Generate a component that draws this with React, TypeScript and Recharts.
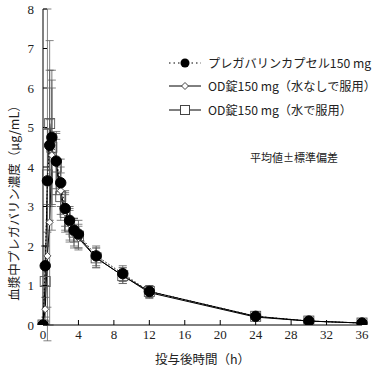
import React from "react";
import {
  LineChart,
  Line,
  XAxis,
  YAxis,
  ErrorBar,
} from "recharts";

// sampling times (h)
const times = [0, 0.25, 0.5, 0.75, 1, 1.5, 2, 2.5, 3, 3.5, 4, 6, 9, 12, 24, 30, 36];

// プレガバリンカプセル150 mg
const capsuleMean = [0, 1.5, 3.65, 4.55, 4.75, 4.15, 3.6, 2.95, 2.65, 2.4, 2.3, 1.75, 1.3, 0.85, 0.22, 0.1, 0.05];
const capsuleSd = [0, 0.5, 1.3, 1.9, 1.7, 0.7, 0.6, 0.45, 0.35, 0.3, 0.35, 0.25, 0.2, 0.15, 0.06, 0.04, 0.02];

// OD錠150 mg（水なしで服用）
const odDryMean = [0, 0.4, 1.75, 2.6, 4.3, 4.1, 3.4, 2.85, 2.55, 2.3, 2.2, 1.7, 1.25, 0.82, 0.2, 0.1, 0.05];
const odDrySd = [0, 0.3, 1.3, 2.6, 1.9, 0.8, 0.6, 0.45, 0.4, 0.35, 0.3, 0.25, 0.2, 0.15, 0.06, 0.04, 0.02];

// OD錠150 mg（水で服用）
const odWaterMean = [0, 1.1, 3.8, 5.1, 4.5, 4.0, 3.25, 2.85, 2.5, 2.35, 2.25, 1.7, 1.25, 0.85, 0.22, 0.1, 0.05];
const odWaterSd = [0, 0.9, 4.2, 2.1, 1.5, 0.7, 0.6, 0.5, 0.4, 0.35, 0.3, 0.25, 0.2, 0.15, 0.06, 0.04, 0.02];

const xTicks = [0, 4, 8, 12, 16, 20, 24, 28, 32, 36];
const yTicks = [0, 1, 2, 3, 4, 5, 6, 7, 8];

const legendItems = [
  { key: "capsule", label: "プレガバリンカプセル150 mg" },
  { key: "odDry", label: "OD錠150 mg（水なしで服用）" },
  { key: "odWater", label: "OD錠150 mg（水で服用）" },
];

const data = times.map((t, i) => ({
  t,
  capsule: capsuleMean[i],
  capsuleSd: capsuleSd[i],
  odDry: odDryMean[i],
  odDrySd: odDrySd[i],
  odWater: odWaterMean[i],
  odWaterSd: odWaterSd[i],
}));

const serif = "'Liberation Serif', 'DejaVu Serif', serif";
const gothic = "'Noto Sans CJK JP', 'Noto Sans', sans-serif";

const CircleDot = (props: any) => (
  <circle key={`c${props.index}`} cx={props.cx} cy={props.cy} r={5.2} fill="#000" stroke="#000" />
);
const DiamondDot = (props: any) => {
  const { cx, cy, index } = props;
  const s = 3.5;
  return (
    <polygon
      key={`d${index}`}
      points={`${cx},${cy - s} ${cx + s},${cy} ${cx},${cy + s} ${cx - s},${cy}`}
      fill="#fff"
      stroke="#444"
      strokeWidth={0.9}
    />
  );
};
const SquareDot = (props: any) => (
  <rect
    key={`s${props.index}`}
    x={props.cx - 5}
    y={props.cy - 5}
    width={10}
    height={10}
    fill="none"
    stroke="#555"
    strokeWidth={0.9}
  />
);

// serif tick labels
const XTick = (props: any) => (
  <text
    x={props.x}
    y={props.y}
    dy="0.71em"
    textAnchor="middle"
    fontSize={13}
    fontFamily={serif}
    fill="#222"
  >
    {props.payload.value}
  </text>
);
const YTick = (props: any) => (
  <text
    x={props.x}
    y={props.y}
    dy="0.35em"
    textAnchor="end"
    fontSize={13}
    fontFamily={serif}
    fill="#222"
  >
    {props.payload.value}
  </text>
);

function LegendIcon({ kind }: { kind: string }) {
  return (
    <svg width={34} height={12} style={{ marginRight: 6, flex: "none" }}>
      {kind === "capsule" ? (
        <>
          <line x1={1} y1={6} x2={33} y2={6} stroke="#000" strokeDasharray="1.5 3" />
          <circle cx={17} cy={6} r={4.5} fill="#000" />
        </>
      ) : kind === "odDry" ? (
        <>
          <line x1={1} y1={6} x2={33} y2={6} stroke="#000" />
          <polygon points="17,2.5 20.5,6 17,9.5 13.5,6" fill="#fff" stroke="#444" />
        </>
      ) : (
        <>
          <line x1={1} y1={6} x2={33} y2={6} stroke="#000" />
          <rect x={12.5} y={1.5} width={9} height={9} fill="#fff" stroke="#444" />
        </>
      )}
    </svg>
  );
}

const YLabel = () => (
  <text
    transform="translate(13,200) rotate(-90)"
    textAnchor="middle"
    dominantBaseline="central"
    fontSize={12.5}
    fontFamily={gothic}
    fill="#222"
  >
    血漿中プレガバリン濃度（μg/mL）
  </text>
);

export default function App() {
  return (
    <div
      style={{
        position: "absolute",
        left: 0,
        top: 0,
        width: 372,
        height: 372,
        background: "#fff",
        overflow: "hidden",
      }}
    >
      <LineChart
        width={372}
        height={372}
        data={data}
        margin={{ top: 9, right: 10, left: 0, bottom: 17 }}
      >
        <XAxis
          dataKey="t"
          type="number"
          domain={[0, 36]}
          ticks={xTicks}
          interval={0}
          height={30}
          stroke="#000"
          tickSize={-5}
          tickMargin={10}
          tick={XTick}
          label={{
            value: "投与後時間（h）",
            position: "insideBottom",
            offset: -9,
            fontSize: 12.5,
            fontFamily: gothic,
            fill: "#222",
          }}
        />
        <YAxis
          type="number"
          domain={[0, 8]}
          ticks={yTicks}
          interval={0}
          width={43}
          stroke="#000"
          tickSize={-4}
          tickMargin={13}
          allowDataOverflow
          tick={YTick}
          label={{ content: YLabel }}
        />
        <Line
          dataKey="odWater"
          stroke="#000"
          strokeWidth={1}
          dot={SquareDot}
          activeDot={false}
          isAnimationActive={false}
        >
          <ErrorBar dataKey="odWaterSd" direction="y" width={4} stroke="#666" strokeWidth={0.8} />
        </Line>
        <Line
          dataKey="odDry"
          stroke="#000"
          strokeWidth={1}
          dot={DiamondDot}
          activeDot={false}
          isAnimationActive={false}
        >
          <ErrorBar dataKey="odDrySd" direction="y" width={4} stroke="#666" strokeWidth={0.8} />
        </Line>
        <Line
          dataKey="capsule"
          stroke="#000"
          strokeWidth={1}
          strokeDasharray="1.5 2"
          dot={CircleDot}
          activeDot={false}
          isAnimationActive={false}
        >
          <ErrorBar dataKey="capsuleSd" direction="y" width={4} stroke="#555" strokeWidth={0.8} />
        </Line>
      </LineChart>
      <div
        style={{
          position: "absolute",
          left: 168,
          top: 51,
          fontFamily: gothic,
          fontSize: 12.2,
          color: "#222",
        }}
      >
        {legendItems.map((it) => (
          <div key={it.key} style={{ display: "flex", alignItems: "center", height: 23.5, whiteSpace: "nowrap" }}>
            <LegendIcon kind={it.key} />
            <span>{it.label}</span>
          </div>
        ))}
      </div>
      <div
        style={{
          position: "absolute",
          left: 250,
          top: 149,
          fontFamily: gothic,
          fontSize: 11,
          color: "#222",
          whiteSpace: "nowrap",
        }}
      >
        平均値±標準偏差
      </div>
    </div>
  );
}
